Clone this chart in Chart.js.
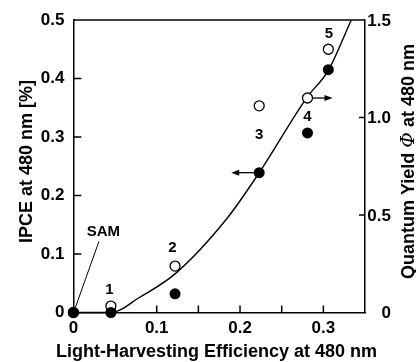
<!DOCTYPE html>
<html>
<head>
<meta charset="utf-8">
<script src="https://cdn.jsdelivr.net/npm/chart.js@4.4.1/dist/chart.umd.min.js"></script>
<style>
  html, body { margin: 0; padding: 0; background: #fff; }
  #wrap { width: 416px; height: 362px; }
</style>
</head>
<body>
<div id="wrap"><canvas id="lheChart" width="416" height="362"></canvas></div>
<script>
// Samples: bare SAM and films 1-5
const sampleNames = ['SAM', '1', '2', '3', '4', '5'];
const lhe = [0, 0.045, 0.122, 0.223, 0.281, 0.306];
const ipce = [0, 0, 0.032, 0.239, 0.307, 0.415];
const quantumYield = [0, 0.033, 0.238, 1.06, 1.10, 1.35];

// Guide curve drawn through the IPCE points
const curveLhe = [0, 0.045, 0.080, 0.122, 0.185, 0.223, 0.280, 0.306, 0.3335];
const curveIpce = [0, 0, 0.0265, 0.066, 0.162, 0.239, 0.367, 0.414, 0.5];

// Tick labels and tick marks
const xTicks = [0, 0.1, 0.2, 0.3];
const xTickMarks = [0.05, 0.1, 0.15, 0.2, 0.25, 0.3];
const ipceTicks = [0, 0.1, 0.2, 0.3, 0.4, 0.5];
const yieldTicks = [0, 0.5, 1.0, 1.5];

const FONT = '"Liberation Sans", Arial, sans-serif';
const fmt = v => (v === 0 ? '0' : v.toFixed(1));
const toXY = (xs, ys) => xs.map((v, i) => ({ x: v, y: ys[i] }));

function line(ctx, x1, y1, x2, y2) {
  ctx.beginPath();
  ctx.moveTo(x1, y1);
  ctx.lineTo(x2, y2);
  ctx.stroke();
}

function arrow(ctx, x1, y, x2) {
  // shaft from x1 to tip x2, small filled head
  const dir = Math.sign(x2 - x1);
  line(ctx, x1, y, x2 - dir * 5, y);
  ctx.beginPath();
  ctx.moveTo(x2, y);
  ctx.lineTo(x2 - dir * 8, y - 3);
  ctx.lineTo(x2 - dir * 8, y + 3);
  ctx.closePath();
  ctx.fill();
}

// Frame, inward ticks, right tick labels, sample labels, arrows and axis titles
const decorPlugin = {
  id: 'decor',
  beforeDatasetsDraw(chart) {
    const { ctx, chartArea: a, scales: { x, y, y2 } } = chart;
    ctx.save();
    ctx.strokeStyle = '#000';
    ctx.lineWidth = 1.5;
    line(ctx, a.left, a.top, a.right, a.top);
    xTickMarks.forEach(v => {
      const px = x.getPixelForValue(v);
      line(ctx, px, a.bottom, px, a.bottom - 7);
    });
    ipceTicks.slice(1, -1).forEach(v => {
      const py = y.getPixelForValue(v);
      line(ctx, a.left, py, a.left + 8, py);
    });
    yieldTicks.slice(1, -1).forEach(v => {
      const py = y2.getPixelForValue(v);
      line(ctx, a.right, py, a.right - 6, py);
    });

    // right axis labels, right-aligned like the original
    ctx.fillStyle = '#000';
    ctx.font = 'bold 17px ' + FONT;
    ctx.textAlign = 'right';
    ctx.textBaseline = 'middle';
    yieldTicks.forEach(v => {
      ctx.fillText(fmt(v), a.right + 26, y2.getPixelForValue(v) + 1);
    });
    ctx.restore();
  },
  afterDatasetsDraw(chart) {
    const { ctx, scales: { x, y, y2 } } = chart;
    const px = i => x.getPixelForValue(lhe[i]);
    const pf = i => y.getPixelForValue(ipce[i]);
    const po = i => y2.getPixelForValue(quantumYield[i]);
    ctx.save();
    ctx.fillStyle = '#000';
    ctx.strokeStyle = '#000';
    ctx.textAlign = 'center';
    ctx.textBaseline = 'middle';

    // sample numbers
    ctx.font = 'bold 15px ' + FONT;
    ctx.fillText(sampleNames[1], px(1) - 1.5, pf(1) - 23);
    ctx.fillText(sampleNames[2], px(2) - 2.5, po(2) - 18);
    ctx.fillText(sampleNames[3], px(3), po(3) + 29);
    ctx.fillText(sampleNames[4], px(4), po(4) + 18.5);
    ctx.fillText(sampleNames[5], px(5) + 0.5, po(5) - 15);

    // SAM label with leader line
    ctx.fillText(sampleNames[0], px(0) + 30, pf(0) - 81);
    ctx.lineWidth = 1;
    line(ctx, px(0) + 2, pf(0) - 5, px(0) + 25.5, pf(0) - 71);

    // arrows pointing to the axis each series belongs to
    ctx.lineWidth = 1.3;
    arrow(ctx, px(3) - 5, pf(3), px(3) - 28);
    arrow(ctx, px(4) + 5, po(4), px(4) + 25);

    // axis titles
    ctx.font = 'bold 18px ' + FONT;
    ctx.textBaseline = 'alphabetic';
    ctx.fillText('Light-Harvesting Efficiency at 480 nm', 216.5, 357);

    const midY = 161.5;
    ctx.save();
    ctx.translate(32, midY);
    ctx.rotate(-Math.PI / 2);
    ctx.fillText('IPCE at 480 nm [%]', 0, 0);
    ctx.restore();

    // right title with italic Phi
    const parts = [
      ['Quantum Yield ', 'bold 18px ' + FONT],
      ['\u03A6', 'italic 19px "DejaVu Serif", serif'],
      [' at 480 nm', 'bold 18px ' + FONT]
    ];
    let total = 0;
    parts.forEach(p => { ctx.font = p[1]; total += ctx.measureText(p[0]).width; });
    ctx.save();
    ctx.translate(414, midY);
    ctx.rotate(-Math.PI / 2);
    ctx.textAlign = 'left';
    let cx = -total / 2;
    parts.forEach(p => {
      ctx.font = p[1];
      ctx.fillText(p[0], cx, 0);
      cx += ctx.measureText(p[0]).width;
    });
    ctx.restore();
    ctx.restore();
  }
};

const tickFont = { family: FONT, size: 17, weight: 'bold' };

new Chart(document.getElementById('lheChart'), {
  type: 'scatter',
  data: {
    datasets: [
      {
        label: 'IPCE',
        data: toXY(lhe, ipce),
        yAxisID: 'y',
        pointRadius: 5.5,
        pointBackgroundColor: '#000',
        pointBorderWidth: 0,
        clip: false
      },
      {
        label: 'Quantum yield',
        data: toXY(lhe, quantumYield),
        yAxisID: 'y2',
        pointRadius: 5,
        pointBackgroundColor: '#fff',
        pointBorderColor: '#000',
        pointBorderWidth: 1.3,
        clip: false
      },
      {
        label: 'curve',
        data: toXY(curveLhe, curveIpce),
        yAxisID: 'y',
        showLine: true,
        pointRadius: 0,
        borderColor: '#000',
        borderWidth: 1.4,
        cubicInterpolationMode: 'monotone',
        clip: false
      }
    ]
  },
  options: {
    responsive: false,
    animation: false,
    events: [],
    layout: { padding: { top: 20, left: 0, right: 0, bottom: 0 } },
    plugins: { legend: { display: false }, tooltip: { enabled: false } },
    scales: {
      x: {
        type: 'linear',
        min: 0,
        max: 0.35,
        grid: { display: false, drawTicks: false },
        border: { display: true, color: '#000', width: 1.5 },
        afterBuildTicks: s => { s.ticks = xTicks.map(v => ({ value: v })); },
        afterFit: s => { s.height = 49.5; },
        ticks: { color: '#000', font: tickFont, padding: 6, maxRotation: 0, callback: fmt }
      },
      y: {
        position: 'left',
        min: 0,
        max: 0.5,
        grid: { display: false, drawTicks: false },
        border: { display: true, color: '#000', width: 1.5 },
        afterBuildTicks: s => { s.ticks = ipceTicks.map(v => ({ value: v })); },
        afterFit: s => { s.width = 73.4; },
        ticks: { color: '#000', font: tickFont, padding: 9, callback: fmt }
      },
      y2: {
        position: 'right',
        min: 0,
        max: 1.5,
        grid: { display: false, drawTicks: false },
        border: { display: true, color: '#000', width: 1.5 },
        afterBuildTicks: s => { s.ticks = yieldTicks.map(v => ({ value: v })); },
        afterFit: s => { s.width = 51; },
        ticks: { display: false }
      }
    }
  },
  plugins: [decorPlugin]
});
</script>
</body>
</html>
